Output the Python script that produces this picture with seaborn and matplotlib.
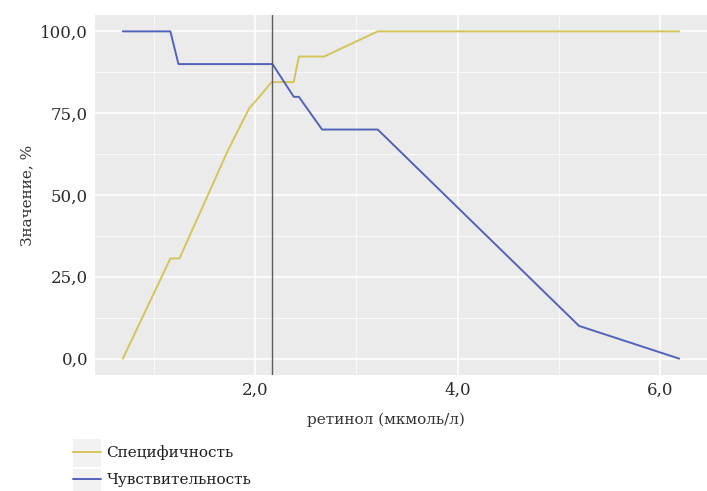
import pandas as pd
import matplotlib
matplotlib.use("Agg")
import matplotlib.pyplot as plt
import seaborn as sns
from matplotlib.ticker import FuncFormatter, MultipleLocator
from matplotlib.lines import Line2D
from matplotlib.patches import Rectangle

# data
spec_x = [0.69, 1.16, 1.25, 1.73, 1.94, 2.04, 2.16, 2.38, 2.43, 2.68, 3.21, 6.19]
spec_y = [0.0, 30.6, 30.6, 63.7, 76.5, 80.0, 84.5, 84.5, 92.3, 92.3, 100.0, 100.0]
sens_x = [0.69, 1.16, 1.24, 2.17, 2.38, 2.43, 2.66, 3.21, 5.20, 6.19]
sens_y = [100.0, 100.0, 90.0, 90.0, 80.0, 80.0, 70.0, 70.0, 10.0, 0.0]
cutoff = 2.16
labels = ["Специфичность", "Чувствительность"]
colors = ["#d4c45c", "#5363b9"]

df = pd.concat([
    pd.DataFrame({"x": spec_x, "y": spec_y, "name": labels[0]}),
    pd.DataFrame({"x": sens_x, "y": sens_y, "name": labels[1]}),
])

sns.set_theme(style="darkgrid")
plt.rcParams["font.family"] = ["DejaVu Serif", "DejaVu Sans"]

fig = plt.figure(figsize=(7.07, 4.91), dpi=100)
ax = fig.add_axes([95 / 707, 1 - 375 / 491, 612 / 707, 360 / 491])
ax.set_facecolor("#ebebeb")

sns.lineplot(data=df, x="x", y="y", hue="name", palette=dict(zip(labels, colors)),
             estimator=None, sort=False, linewidth=1.4, ax=ax, legend=False)
ax.axvline(cutoff, color="#5c5c5c", linewidth=1.0)

ax.set_xlim(0.415, 6.465)
ax.set_ylim(-5, 105)
ax.xaxis.set_major_locator(MultipleLocator(2))
ax.xaxis.set_minor_locator(MultipleLocator(1))
ax.yaxis.set_major_locator(MultipleLocator(25))
ax.yaxis.set_minor_locator(MultipleLocator(12.5))
fmt = FuncFormatter(lambda v, p: f"{v:.1f}".replace(".", ","))
ax.xaxis.set_major_formatter(fmt)
ax.yaxis.set_major_formatter(fmt)

ax.grid(which="major", color="white", linewidth=1.1)
ax.grid(which="minor", color="white", linewidth=0.5)
for s in ax.spines.values():
    s.set_visible(False)
ax.tick_params(axis="both", which="major", length=3, width=1, color="#333333",
               labelsize=12, labelcolor="#2b2b2b", pad=2)
ax.tick_params(axis="both", which="minor", length=0)

ax.set_xlabel("ретинол (мкмоль/л)", fontsize=11, color="#333333")
ax.xaxis.set_label_coords((386 - 95) / 612, -(413 - 375) / 360)
ax.set_ylabel("Значение, %", fontsize=11, color="#333333", labelpad=4)

# legend below the plot, ggplot style
handles = [Line2D([], [], color=c, linewidth=1.4) for c in colors]
for yy in [439, 469]:
    fig.add_artist(Rectangle((73 / 707, 1 - (yy + 28) / 491), 28 / 707, 28 / 491,
                             transform=fig.transFigure, facecolor="#f2f2f2",
                             edgecolor="none"))
fig.legend(handles, labels, loc="upper left", bbox_to_anchor=(73 / 707, 1 - 445.5 / 491),
           frameon=False, fontsize=11, handlelength=1.83, handletextpad=0.37,
           labelspacing=0.83, borderaxespad=0, borderpad=0, labelcolor="#1e1e1e")

fig.savefig("out.png", dpi=100)
